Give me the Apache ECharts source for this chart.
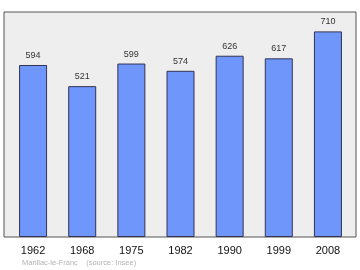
<!DOCTYPE html>
<html>
<head>
<meta charset="utf-8">
<script src="https://cdn.jsdelivr.net/npm/echarts@6/dist/echarts.min.js"></script>
<style>html,body{margin:0;padding:0;background:#fff}#c{width:360px;height:270px}</style>
</head>
<body>
<div id="c"></div>
<script>
const years = ['1962', '1968', '1975', '1982', '1990', '1999', '2008'];
const population = [594, 521, 599, 574, 626, 617, 710];
const footerName = 'Marillac-le-Franc';
const footerSource = '(source: Insee)';

const chart = echarts.init(document.getElementById('c'), null, {renderer: 'canvas'});
chart.setOption({
  animation: false,
  backgroundColor: '#ffffff',
  grid: {left: 8.5, right: 7.5, top: 12, bottom: 33},
  graphic: [
    {type: 'rect', z: -10, shape: {x: 4, y: 12, width: 352, height: 225},
     style: {fill: '#eeeeee', stroke: '#555555', lineWidth: 1}},
    {type: 'text', left: 22, top: 258.5, style: {text: footerName + '    ' + footerSource, fill: '#b4b4b4', font: '7.5px "Liberation Sans", Arial, sans-serif'}}
  ],
  xAxis: {
    type: 'category', data: years,
    axisLine: {show: false}, axisTick: {show: false},
    axisLabel: {color: '#111', fontSize: 11, margin: 8, fontFamily: 'Liberation Sans, Arial, sans-serif'}
  },
  yAxis: {type: 'value', min: 0, max: 777, show: false, splitLine: {show: false}},
  series: [{
    type: 'bar', data: population, barWidth: 28,
    itemStyle: {color: '#6f96fb', borderColor: '#333355', borderWidth: 1},
    label: {show: true, position: 'top', distance: 5, color: '#333', fontSize: 9, fontFamily: 'Liberation Sans, Arial, sans-serif'}
  }]
});
</script>
</body>
</html>
